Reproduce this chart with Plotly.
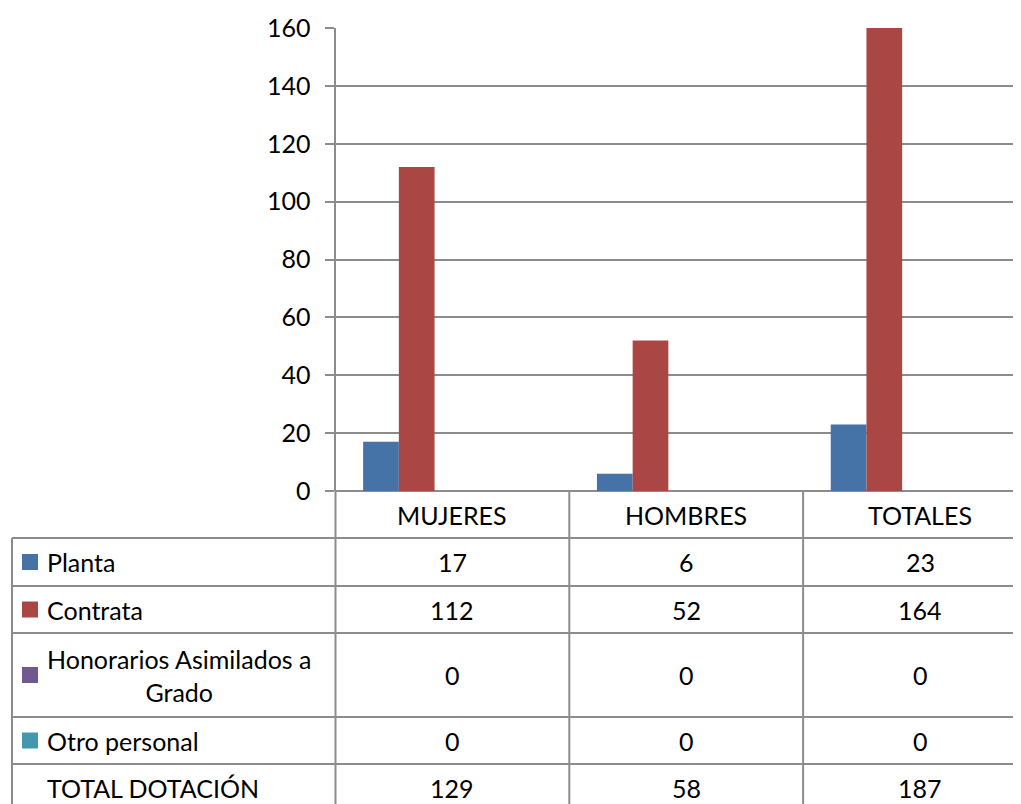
import plotly.graph_objects as go

categories = ["MUJERES", "HOMBRES", "TOTALES"]
series_names = ["Planta", "Contrata", "Honorarios Asimilados a Grado", "Otro personal", "TOTAL DOTACIÓN"]
planta = [17, 6, 23]
contrata = [112, 52, 164]
honorarios = [0, 0, 0]
otro = [0, 0, 0]
total = [129, 58, 187]
series_values = [planta, contrata, honorarios, otro, total]
series_colors = ["#4572A7", "#AA4643", "#71588F", "#4198AF", "rgba(0,0,0,0)"]
row_labels = ["Planta", "Contrata", "Honorarios Asimilados a<br>Grado", "Otro personal", "TOTAL DOTACIÓN"]
y_ticks = [0, 20, 40, 60, 80, 100, 120, 140, 160]

# page body has an 8px margin; figure is placed at (8, 8) in the window
OFF = 8
WIN_W, WIN_H = 1021, 804
W, H = WIN_W - OFF, WIN_H - OFF
FONT = "Lato"
FS = 25
GRID = "#8C8C8C"

def px(x):
    return (x - OFF) / W

def py(y):
    return 1 - (y - OFF) / H

fig = go.Figure()
for name, vals, col in zip(series_names, series_values, series_colors):
    fig.add_trace(go.Bar(x=categories, y=vals, name=name, marker=dict(color=col, line=dict(width=0)),
                         showlegend=False))

# plot area geometry (window pixels)
x0, x_cat = 335.5, 233.8
y_top, y_zero = 28, 491
xr_max = -0.5 + (WIN_W - x0) / x_cat

fig.update_layout(
    width=W, height=H,
    margin=dict(l=0, r=0, t=0, b=0, pad=0),
    paper_bgcolor="white", plot_bgcolor="white",
    barmode="group", bargap=0.2365, bargroupgap=0,
    font=dict(family=FONT, size=FS, color="black"),
    xaxis=dict(domain=[px(x0), 1], range=[-0.5, xr_max], showticklabels=False, showgrid=False,
               zeroline=False, showline=False, ticks="", automargin=False),
    yaxis=dict(domain=[py(y_zero), py(y_top)], range=[0, 160], tickvals=y_ticks,
               showgrid=True, gridcolor=GRID, gridwidth=2, zeroline=True, zerolinecolor=GRID,
               zerolinewidth=2, showline=True, linecolor=GRID, linewidth=2,
               ticks="outside", ticklen=9, tickcolor=GRID, tickwidth=2, automargin=False,
               tickfont=dict(family=FONT, size=FS, color="black"), ticklabelstandoff=9),
)

shapes = []
line = dict(color=GRID, width=2)
table_left = 12
col_x = [x0 + i * x_cat for i in range(4)]
row_y = [y_zero, 538, 586, 633, 717, 764, 811]

for yy in row_y[1:]:
    shapes.append(dict(type="line", xref="paper", yref="paper", x0=px(table_left), x1=1,
                       y0=py(yy), y1=py(yy), line=line))
shapes.append(dict(type="line", xref="paper", yref="paper", x0=px(table_left), x1=px(table_left),
                   y0=py(538), y1=py(830), line=line))
for cx in col_x[:3]:
    shapes.append(dict(type="line", xref="paper", yref="paper", x0=px(cx), x1=px(cx),
                       y0=py(y_zero), y1=py(830), line=line))

annotations = []
for i, c in enumerate(categories):
    annotations.append(dict(x=px(x0 + (i + 0.5) * x_cat), y=py((row_y[0] + row_y[1]) / 2),
                            xref="paper", yref="paper", text=c, showarrow=False,
                            xanchor="center", yanchor="middle"))
for r, (lab, vals, col) in enumerate(zip(row_labels, series_values, series_colors)):
    yc = (row_y[r + 1] + row_y[r + 2]) / 2
    if r < 4:
        shapes.append(dict(type="rect", xref="paper", yref="paper", x0=px(22), x1=px(38),
                           y0=py(yc - 8), y1=py(yc + 8), fillcolor=col, line=dict(width=0)))
    annotations.append(dict(x=px(45), y=py(yc), xref="paper", yref="paper", text=lab,
                            showarrow=False, xanchor="left", yanchor="middle", align="center"))
    for i, v in enumerate(vals):
        annotations.append(dict(x=px(x0 + (i + 0.5) * x_cat), y=py(yc), xref="paper", yref="paper",
                                text=str(v), showarrow=False, xanchor="center", yanchor="middle"))

fig.update_layout(shapes=shapes, annotations=annotations)
fig.write_html("out.html")
